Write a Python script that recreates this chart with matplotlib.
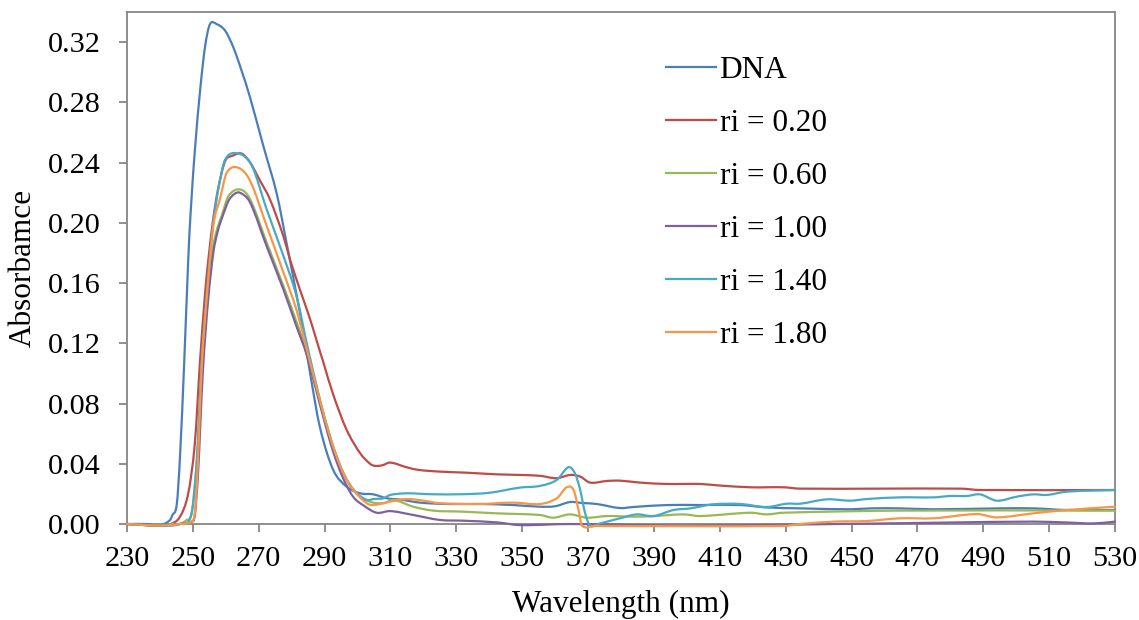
import matplotlib
matplotlib.use("Agg")
import matplotlib.pyplot as plt
import numpy as np
from matplotlib.path import Path
from matplotlib.patches import PathPatch
from matplotlib.lines import Line2D

# Wavelength (nm) and absorbance readings for each sample
dna_x = [230, 236, 240, 243, 243.8, 245.1, 246.1, 247.4, 248.6, 249.3, 250.6, 252.2,
         253.7, 255.2, 257.2, 259.8, 262.3, 264.8, 267.4, 271.4, 275.5, 278.5, 281.5,
         283.5, 285.6, 288.6, 292.6, 296.7, 300.8, 304.8, 308.9, 313, 319, 327, 337,
         347.3, 355.4, 360, 364.5, 368, 372.6, 379.7, 383.7, 393.9, 404, 416.2, 424.2,
         434.4, 449.6, 455.7, 464.7, 474.9, 495.1, 505.2, 515.4, 530]
dna_y = [0, 0, -0.001, 0.0025, 0.006, 0.013, 0.045, 0.109, 0.176, 0.206, 0.248, 0.288,
         0.317, 0.332, 0.332, 0.3276, 0.3165, 0.301, 0.283, 0.251, 0.219, 0.186, 0.152,
         0.128, 0.100, 0.064, 0.036, 0.0248, 0.0204, 0.0197, 0.0171, 0.0162, 0.0142,
         0.0133, 0.0133, 0.0126, 0.0115, 0.0118, 0.0146, 0.0140, 0.0133, 0.0106, 0.0113,
         0.0126, 0.0126, 0.0126, 0.011, 0.0104, 0.0098, 0.0104, 0.0104, 0.0098, 0.0104,
         0.0104, 0.0093, 0.0093]

ri020_x = [230, 240, 243.3, 246.1, 248.6, 250.6, 252.2, 253.7, 254.7, 256.2, 257.7, 259.8,
           262, 264.8, 267.4, 270.4, 273.4, 277.5, 279.5, 282.5, 285.6, 288.1, 289.6,
           292.6, 296.7, 300.8, 303.8, 305.3, 307.5, 309.9, 314.9, 318.3, 325, 333.1, 342.2,
           349.4, 355.4, 360.5, 364.5, 367.6, 370.6, 375.7, 379.7, 385.8, 393.9, 404, 409.1,
           419.2, 429.3, 434.4, 483, 489, 530]
ri020_y = [0, -0.001, 0, 0.0049, 0.0204, 0.0537, 0.109, 0.153, 0.1756, 0.203, 0.223, 0.241,
           0.2445, 0.246, 0.240, 0.228, 0.2156, 0.191, 0.1756, 0.1557, 0.136, 0.118, 0.1075,
           0.086, 0.0625, 0.047, 0.040, 0.0386, 0.039, 0.0408, 0.0377, 0.036, 0.0348,
           0.0341, 0.033, 0.0326, 0.032, 0.0304, 0.0326, 0.0315, 0.0275, 0.0286, 0.0288,
           0.0275, 0.0266, 0.0266, 0.0257, 0.0244, 0.0244, 0.0235, 0.0235, 0.0226, 0.0226]

ri060_x = [230, 240, 244, 246, 248.1, 249.6, 251.2, 252.7, 254.2, 255.2, 256.2, 257.5,
           258.8, 260.8, 264.3, 267.4, 272.4, 277.5, 281.5, 284.6, 289.6, 292.6, 295.7,
           299.8, 303.8, 307.9, 310.9, 316.9, 323, 332.1, 342.2, 355.4, 359.4, 364.5, 369.6,
           375.7, 383.7, 388.7, 398.9, 404, 419.2, 424.2, 429.3, 464.7, 530]
ri060_y = [0, -0.001, 0, 0, 0.0027, 0.007, 0.0426, 0.105, 0.148, 0.168, 0.185, 0.197,
           0.205, 0.2178, 0.2222, 0.2156, 0.187, 0.158, 0.134, 0.114, 0.0737, 0.0514, 0.0337,
           0.0204, 0.0148, 0.0138, 0.016, 0.0115, 0.0089, 0.0082, 0.0071, 0.006, 0.0042,
           0.0064, 0.0042, 0.0053, 0.0049, 0.0051, 0.0064, 0.0053, 0.0075, 0.0064, 0.0075,
           0.0089, 0.0089]

ri100_x = [230, 240, 246, 249.6, 250.6, 251.6, 253.0, 254.6, 256.2, 257.5, 258.8, 260.8,
           262.5, 264.3, 267.4, 272.4, 277.5, 281.5, 284.6, 289.6, 292.6, 295.7, 298.7,
           301.7, 305.8, 309.9, 316.9, 325, 332.1, 342.2, 349.4, 364.5, 400, 460, 480, 505.2,
           515.4, 523.5, 530]
ri100_y = [0, -0.001, 0, 0.0016, 0.006, 0.035, 0.100, 0.148, 0.180, 0.194, 0.203, 0.2145,
           0.219, 0.220, 0.2134, 0.1845, 0.1557, 0.131, 0.112, 0.071, 0.048, 0.030, 0.018,
           0.0125, 0.0075, 0.0086, 0.006, 0.0027, 0.0022, 0.0011, -0.0007, 0, -0.001, 0.0004,
           0.001, 0.0016, 0.001, 0.0004, 0.0016]

ri140_x = [230, 240, 246, 249.6, 251.2, 252.7, 254.2, 255.2, 256.2, 257.7, 259.8, 263.8,
           267.9, 272.4, 277.5, 281.5, 285, 289.6, 292.6, 295.7, 298.7, 302.8, 304.8,
           307.9, 309.9, 314.9, 322, 332.1, 340.2, 349.3, 355.4, 360.5, 364, 366, 367.6,
           369.1, 370.6, 373.6, 377.7, 379.7, 384.8, 389.9, 395.9, 401, 408.1, 416.2, 424.2,
           430.3, 434.4, 442.5, 449.6, 454.6, 464.7, 474.9, 479.9, 485, 489, 494.1, 500.2,
           505.2, 509.3, 515.4, 530]
ri140_y = [0, -0.001, 0, 0.007, 0.0426, 0.109, 0.153, 0.178, 0.200, 0.222, 0.242, 0.246,
           0.238, 0.209, 0.178, 0.151, 0.1158, 0.0737, 0.0514, 0.0337, 0.0226, 0.016,
           0.0166, 0.0171, 0.0193, 0.0204, 0.0198, 0.0198, 0.0208, 0.0242, 0.0253, 0.0293,
           0.0377, 0.0337, 0.0226, 0.0071, -0.001, 0.0004, 0.0027, 0.0038, 0.0064, 0.0053,
           0.0093, 0.0104, 0.0131, 0.0133, 0.0113, 0.0135, 0.0135, 0.0164, 0.0155, 0.0166,
           0.0177, 0.0177, 0.0186, 0.0186, 0.0197, 0.0155, 0.0182, 0.0197, 0.0193, 0.0215,
           0.0226]

ri180_x = [230, 240, 246, 249.6, 250.6, 251.4, 252.7, 254.2, 256.2, 258.2, 260.3, 263.8,
           267.4, 272.4, 277.5, 281.5, 284.6, 289.6, 292.6, 295.7, 298.7, 302.8, 304.8,
           309.9, 315, 320, 325, 337, 347.3, 355.4, 360.5, 363.5, 365.6, 367.1, 368.1, 372,
           429.3, 434.4, 444.5, 454.6, 464.7, 474.9, 488, 494.1, 505.2, 515.4, 530]
ri180_y = [0, -0.001, 0, 0.0016, 0.0075, 0.035, 0.105, 0.150, 0.198, 0.2156, 0.2333,
           0.2366, 0.2278, 0.198, 0.167, 0.142, 0.1158, 0.0737, 0.0514, 0.0337, 0.0226,
           0.0138, 0.0126, 0.0149, 0.0166, 0.0155, 0.0138, 0.0133, 0.0142, 0.0133, 0.0171,
           0.0244, 0.0226, 0.0093, -0.001, -0.0013, -0.0013, 0, 0.0016, 0.002, 0.0038,
           0.0038, 0.0066, 0.0044, 0.0071, 0.0093, 0.0115]

series = [
    ("DNA", dna_x, dna_y, "#4a7ebb"),
    ("ri = 0.20", ri020_x, ri020_y, "#be4b48"),
    ("ri = 0.60", ri060_x, ri060_y, "#98b954"),
    ("ri = 1.00", ri100_x, ri100_y, "#7d60a0"),
    ("ri = 1.40", ri140_x, ri140_y, "#46aac5"),
    ("ri = 1.80", ri180_x, ri180_y, "#f79646"),
]

x_ticks = list(range(230, 531, 20))
y_ticks = [0.00, 0.04, 0.08, 0.12, 0.16, 0.20, 0.24, 0.28, 0.32]


def smooth_path(xs, ys):
    """Smoothed line through the readings (cubic Bezier segments, slopes from neighbours)."""
    x = np.asarray(xs, float)
    y = np.asarray(ys, float)
    m = np.empty(len(x))
    m[1:-1] = (y[2:] - y[:-2]) / (x[2:] - x[:-2])
    m[0] = (y[1] - y[0]) / (x[1] - x[0])
    m[-1] = (y[-1] - y[-2]) / (x[-1] - x[-2])
    verts = [(x[0], y[0])]
    codes = [Path.MOVETO]
    for i in range(len(x) - 1):
        h = x[i + 1] - x[i]
        verts += [(x[i] + h / 3, y[i] + m[i] * h / 3),
                  (x[i + 1] - h / 3, y[i + 1] - m[i + 1] * h / 3),
                  (x[i + 1], y[i + 1])]
        codes += [Path.CURVE4] * 3
    return Path(verts, codes)


plt.rcParams["font.family"] = ["Liberation Serif", "DejaVu Serif"]
plt.rcParams["font.size"] = 21.8

fig = plt.figure(figsize=(11.39, 6.20), dpi=100)
ax = fig.add_axes([0.1115, 0.1548, 0.8675, 0.8258])

LW = 1.6
handles = []
for label, xs, ys, color in series:
    patch = PathPatch(smooth_path(xs, ys), facecolor="none", edgecolor=color, lw=LW,
                      transform=ax.transData, clip_on=False, zorder=3,
                      joinstyle="round", capstyle="round")
    ax.add_patch(patch)
    handles.append(Line2D([], [], color=color, lw=LW, label=label))

ax.set_xlim(230, 530)
ax.set_ylim(0, 0.34)
ax.set_xticks(x_ticks)
ax.set_yticks(y_ticks)
ax.set_yticklabels([f"{v:.2f}" for v in y_ticks])

spine_color = "#868686"
for s in ax.spines.values():
    s.set_color(spine_color)
    s.set_linewidth(1.3)
ax.tick_params(axis="both", direction="out", length=6, width=1.3, color=spine_color,
               labelcolor="black")
ax.tick_params(axis="x", pad=10)
ax.tick_params(axis="y", pad=13)

ax.set_xlabel("Wavelength (nm)", fontsize=22.5, labelpad=13)
ax.set_ylabel("Absorbamce", fontsize=22.5, labelpad=7)

ax.legend(handles=handles, loc="upper left", bbox_to_anchor=(0.545, 0.915),
          frameon=False, fontsize=22.5, handlelength=1.6, handletextpad=0.13,
          labelspacing=0.77, borderaxespad=0, borderpad=0)

fig.savefig("out.png", dpi=100)
